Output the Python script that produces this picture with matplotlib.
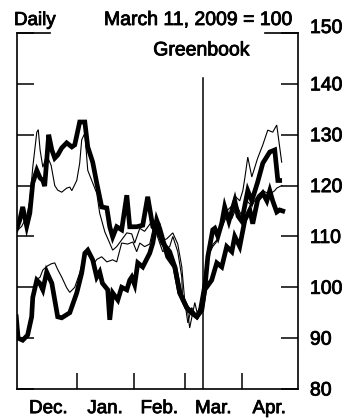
import matplotlib
matplotlib.use("Agg")
import matplotlib.pyplot as plt
import matplotlib.patheffects as pe

plt.rcParams['font.family'] = ['Liberation Sans', 'DejaVu Sans']

# Day offsets are counted from Dec. 1, 2008; values are indexed to March 11, 2009 = 100.
days_thick_a = [-2, -0.1, 1.5, 3.7, 5.4, 7, 9.2, 11, 12.5, 13.5, 15.7, 17.4, 19, 20.6, 22.8,
                25.5, 28.3, 29.9, 32.6, 35.4, 37, 39.7, 41.9, 44.6, 47.4, 49, 50.6, 52.8,
                55.5, 58.3, 59.9, 63.7, 67, 69.7, 72.5, 76.3, 77.9, 81.7, 84.5, 87.2, 91,
                93.7, 96.5, 99.2, 100.8, 102.5, 105.2, 106.3, 108, 110.1, 111.7, 114,
                117.2, 119, 121, 124.3, 126.5, 129.7, 132.5, 136.3, 139, 140.7, 141.7]
vals_thick_a = [111.3, 113.2, 115.8, 112.0, 114.6, 120.5, 123.0, 121.5, 121.0, 119.9, 130.0,
                127.0, 125.4, 126.0, 127.4, 128.4, 127.6, 128.0, 132.5, 132.5, 127.6, 124.6,
                120.5, 115.8, 115.6, 111.9, 109.9, 111.9, 111.3, 118.1, 111.9, 111.9, 112.2,
                117.8, 111.9, 110.3, 108.7, 107.0, 104.0, 98.9, 96.0, 95.0, 94.2, 95.5, 99.5,
                106.0, 111.3, 111.6, 110.0, 112.6, 115.8, 113.0, 117.0, 114.0, 113.0, 119.0,
                117.0, 120.7, 124.4, 126.6, 127.0, 121.0, 121.0]

days_thick_b = [-2, -1, 1.5, 4.2, 6.4, 7, 9.2, 10.8, 12.5, 14.6, 17.4, 20.6, 22.8, 27.2, 31,
                33.7, 35.4, 37, 39.7, 41.9, 43.5, 45, 47.9, 49, 50.6, 53.4, 55.5, 58.3, 59.9,
                61, 62.6, 64.3, 67, 70.8, 72.5, 74.6, 76.3, 80.6, 84.5, 87.2, 91, 93.7, 96.5,
                99.2, 100.8, 104.6, 107.4, 110.1, 112.8, 115.6, 117.2, 119.9, 122.7, 125.4,
                127, 129.7, 132.5, 134.7, 136.3, 137.9, 140.1, 141.7, 143.4]
vals_thick_b = [94.2, 90.0, 89.6, 90.6, 94.2, 98.0, 101.4, 100.8, 99.5, 103.0, 100.8, 94.2,
                94.0, 95.0, 98.9, 102.8, 106.7, 107.3, 105.4, 102.0, 103.0, 100.8, 99.5, 93.6,
                98.9, 97.5, 100.0, 99.5, 101.4, 102.0, 100.5, 104.8, 104.0, 106.7, 108.7,
                113.2, 111.5, 106.0, 104.0, 98.9, 96.0, 95.0, 94.2, 96.0, 99.5, 101.4, 104.8,
                104.0, 108.0, 107.0, 110.0, 108.0, 113.2, 115.2, 112.5, 117.2, 118.5, 117.0,
                119.0, 117.0, 114.8, 115.2, 115.0]

days_thin_a = [-2, 1, 3.7, 5.4, 7, 9.2, 10, 11, 12.5, 14.6, 17, 19, 20.6, 22.8, 25.5, 27.2,
               28.3, 31, 32.6, 33.7, 35.4, 37, 41.9, 43.5, 46.3, 48, 50.6, 52.8, 58.3, 61,
               62.6, 65.4, 68, 72.5, 76.3, 77.9, 80, 83.4, 86.1, 88.3, 90, 91.6, 93.7, 95.4,
               97, 99.2, 102.5, 105.2, 107.4, 110.1, 112.8, 115.6, 117.2, 119.9, 121.6,
               122.7, 124.3, 126.5, 129.7, 132.5, 135.2, 137.9, 140.1, 142.8]
vals_thin_a = [111.0, 112.0, 114.0, 117.0, 123.6, 130.5, 131.0, 127.0, 123.6, 126.0, 124.0,
               120.0, 119.1, 118.7, 119.5, 119.7, 119.0, 121.0, 124.4, 129.0, 130.3, 123.0,
               118.5, 114.6, 110.9, 109.5, 107.3, 108.0, 110.7, 110.5, 108.7, 111.6, 111.0,
               113.2, 112.6, 109.3, 109.5, 110.7, 108.5, 104.0, 97.0, 93.0, 96.0, 95.0, 94.0,
               98.0, 106.0, 108.0, 109.0, 112.0, 115.0, 116.0, 118.0, 117.0, 119.0, 121.5,
               125.6, 121.7, 125.4, 128.0, 130.9, 130.5, 131.9, 124.6]

days_thin_b = [-2, 0, 2, 4, 6, 7.5, 9.2, 11, 12.5, 15, 17, 19, 20.6, 22.8, 25.5, 27.2, 29.9,
               32.6, 34.5, 36, 38, 40, 42, 44.6, 47.4, 50.6, 52.8, 55.5, 58.8, 61.6, 63.7,
               65.4, 68, 70.8, 73.6, 75, 77.9, 81.7, 83.4, 86.1, 88.3, 88.8, 91.6, 92.6,
               95.4, 97, 99.2, 102.5, 105.2, 107.4, 110.1, 112.8, 115.6, 118.5, 121, 123.7,
               126.5, 129.7, 132.5, 136.3, 139, 140.1, 142.8]
vals_thin_b = [91.0, 90.0, 89.5, 91.0, 93.0, 98.0, 101.5, 102.0, 103.4, 104.2, 104.6, 104.8,
               103.5, 102.0, 99.9, 99.0, 100.0, 102.8, 105.4, 107.0, 106.0, 104.5, 105.5,
               106.0, 105.0, 105.4, 105.0, 108.7, 108.5, 108.9, 107.0, 108.7, 108.0, 108.5,
               113.0, 110.0, 107.0, 108.0, 110.0, 107.0, 102.0, 97.0, 95.0, 92.0, 97.0, 94.5,
               99.0, 106.0, 108.4, 109.3, 111.7, 114.0, 113.5, 116.0, 114.0, 117.0, 116.0,
               118.1, 119.0, 118.3, 119.0, 119.5, 120.0]

month_names = ["Dec.", "Jan.", "Feb.", "Mar.", "Apr."]
month_starts = [0, 31, 62, 90, 121, 151]
greenbook_day = 100
y_ticks = [80, 90, 100, 110, 120, 130, 140, 150]

# a thin outline gives the lettering a slightly heavier stroke
heavy = [pe.withStroke(linewidth=0.6, foreground='black')]

fig = plt.figure(figsize=(3.51, 4.2), dpi=100)
ax = fig.add_axes([17 / 351, 31 / 420, 281 / 351, 356 / 420])

ax.plot(days_thin_a, vals_thin_a, color='black', lw=0.8, solid_joinstyle='miter')
ax.plot(days_thin_b, vals_thin_b, color='black', lw=0.8, solid_joinstyle='miter')
ax.plot(days_thick_a, vals_thick_a, color='black', lw=3.4, solid_joinstyle='miter')
ax.plot(days_thick_b, vals_thick_b, color='black', lw=3.4, solid_joinstyle='miter')

ax.set_xlim(-1.6, 151.7)
ax.set_ylim(80, 150)

# Greenbook marker
ax.plot([greenbook_day, greenbook_day], [80, 141.1], color='black', lw=1.1)
ax.text(greenbook_day - 0.8, 145.6, "Greenbook", ha='center', va='baseline', fontsize=14,
        path_effects=heavy)

# Frame: left, right and bottom spines, with short brackets across the top
for side in ('left', 'right', 'bottom'):
    ax.spines[side].set_linewidth(1.2)
ax.spines['top'].set_visible(False)
for x0, x1 in ((0, 0.117), (0.883, 1)):
    ax.plot([x0, x1], [1, 1], transform=ax.transAxes, color='black', lw=1.2,
            clip_on=False, solid_capstyle='projecting')

ax.set_yticks(y_ticks)
ax.set_yticklabels([str(v) for v in y_ticks])
ax.tick_params(axis='y', which='major', direction='in', length=12, width=1.1,
               left=True, right=True, labelleft=False, labelright=True,
               labelsize=14, pad=8.6)
ax.yaxis.get_major_ticks()[-1].label2.set_verticalalignment('baseline')

ax.set_xticks(month_starts[1:-1])
ax.set_xticklabels([])
ax.tick_params(axis='x', which='major', direction='in', length=11.5, width=1.1)
mids = [(a + b) / 2 for a, b in zip(month_starts[:-1], month_starts[1:])]
ax.set_xticks(mids, minor=True)
ax.set_xticklabels(month_names, minor=True)
ax.tick_params(axis='x', which='minor', length=0, labelsize=13.5, pad=8)

for lbl in ax.get_xticklabels(minor=True):
    lbl.set_path_effects(heavy)
for tk in ax.yaxis.get_major_ticks():
    tk.label2.set_path_effects(heavy)

fig.text(14 / 351, 1 - 25 / 420, "Daily", ha='left', va='baseline', fontsize=13.5,
         path_effects=heavy)
fig.text(293 / 351, 1 - 25 / 420, "March 11, 2009 = 100", ha='right', va='baseline',
         fontsize=14, path_effects=heavy)

fig.savefig("out.png", dpi=100)
